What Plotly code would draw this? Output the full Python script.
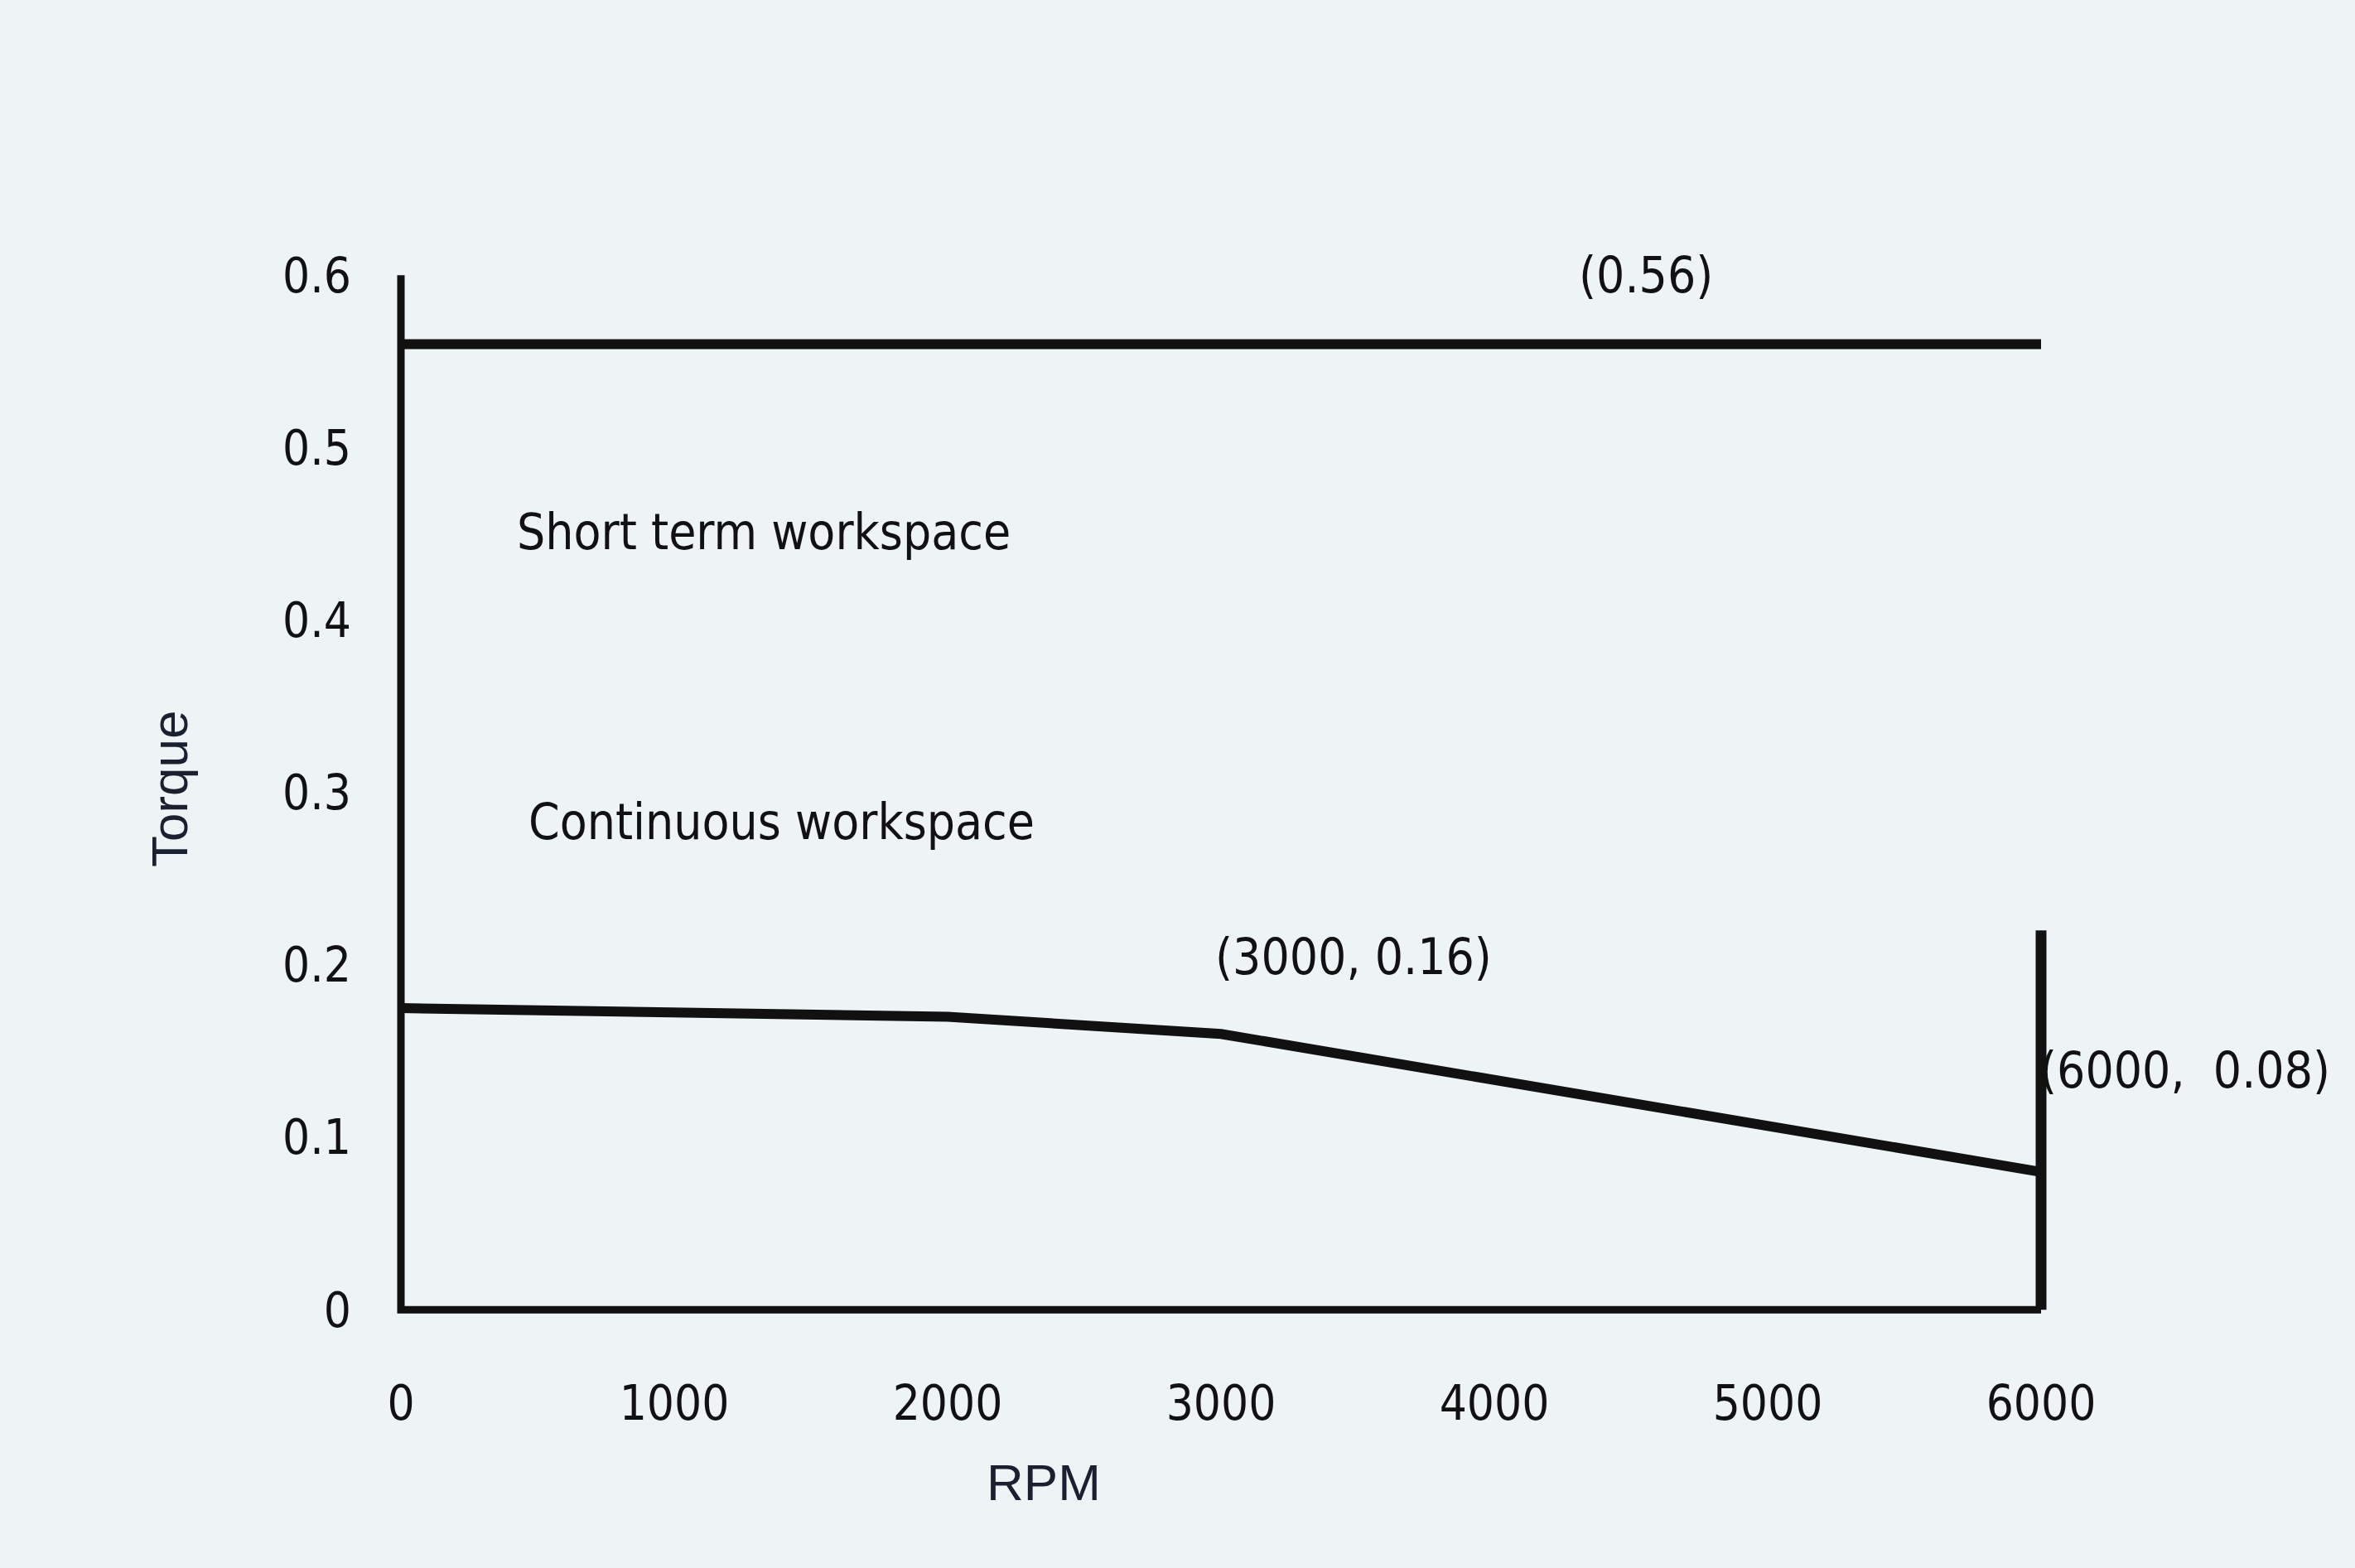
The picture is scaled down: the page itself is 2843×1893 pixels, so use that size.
import plotly.graph_objects as go

# ---- data ----
rpm = [0, 2000, 3000, 6000]
continuous_torque = [0.175, 0.170, 0.16, 0.08]
peak_torque = 0.56
rpm_limit = 6000
limit_line_torque = [0, 0.22]
axis_top_torque = 0.6
x_tick_vals = [0, 1000, 2000, 3000, 4000, 5000, 6000]
x_tick_text = ["0", "1000", "2000", "3000", "4000", "5000", "6000"]
y_tick_vals = [0, 0.1, 0.2, 0.3, 0.4, 0.5, 0.6]
y_tick_text = ["0", "0.1", "0.2", "0.3", "0.4", "0.5", "0.6"]

BG = "#eef3f6"
INK = "#111111"
COND = "DejaVu Sans Condensed, Liberation Sans Narrow, DejaVu Sans, sans-serif"

fig = go.Figure()

# frame (left axis + bottom axis)
fig.add_trace(go.Scatter(
    x=[0, 0, rpm_limit], y=[axis_top_torque, 0, 0],
    mode="lines", line=dict(color=INK, width=9), hoverinfo="skip", showlegend=False))

# short-term (peak) torque line
fig.add_trace(go.Scatter(
    x=[0, rpm_limit], y=[peak_torque, peak_torque],
    mode="lines", line=dict(color=INK, width=12), name="Short term", showlegend=False))

# continuous torque curve
fig.add_trace(go.Scatter(
    x=rpm, y=continuous_torque,
    mode="lines", line=dict(color=INK, width=12), name="Continuous", showlegend=False))

# RPM limit vertical line
fig.add_trace(go.Scatter(
    x=[rpm_limit, rpm_limit], y=limit_line_torque,
    mode="lines", line=dict(color=INK, width=13), hoverinfo="skip", showlegend=False))

txt_font = dict(family=COND, size=60, color=INK)
annots = [
    dict(x=418, y=0.451, text="Short term workspace"),
    dict(x=462, y=0.283, text="Continuous workspace"),
    dict(x=4302, y=0.600, text="(0.56)"),
    dict(x=2973, y=0.2047, text="(3000, 0.16)"),
    dict(x=5989, y=0.139, text="(6000,&nbsp;&nbsp;0.08)"),
]
for a in annots:
    fig.add_annotation(x=a["x"], y=a["y"], text=a["text"], xref="x", yref="y",
                       xanchor="left", yanchor="middle", showarrow=False, font=txt_font)

title_font = dict(family="Liberation Sans, Arial, sans-serif", size=62, color="#1a2030")
fig.add_annotation(text="Torque", xref="paper", yref="paper", x=-0.1202, y=0.4884,
                   textangle=-90, showarrow=False, xanchor="center", yanchor="middle",
                   font=title_font)
fig.add_annotation(text="RPM", xref="paper", yref="paper", x=0.3954, y=-0.1215,
                   showarrow=False, xanchor="center", yanchor="middle", font=title_font)

fig.update_layout(
    width=2843, height=1893,
    margin=dict(l=451, r=346, t=249, b=270),
    paper_bgcolor=BG, plot_bgcolor=BG,
    xaxis=dict(range=[-100, 6100], showgrid=False, zeroline=False, showline=False,
               tickvals=x_tick_vals, ticktext=x_tick_text, ticks="",
               ticklabelstandoff=32,
               tickfont=dict(family=COND, size=58, color=INK)),
    yaxis=dict(range=[-0.02, 0.64], showgrid=False, zeroline=False, showline=False,
               tickvals=y_tick_vals, ticktext=y_tick_text, ticks="",
               ticklabelstandoff=26,
               tickfont=dict(family=COND, size=58, color=INK)),
)

fig.write_html("out.html")
